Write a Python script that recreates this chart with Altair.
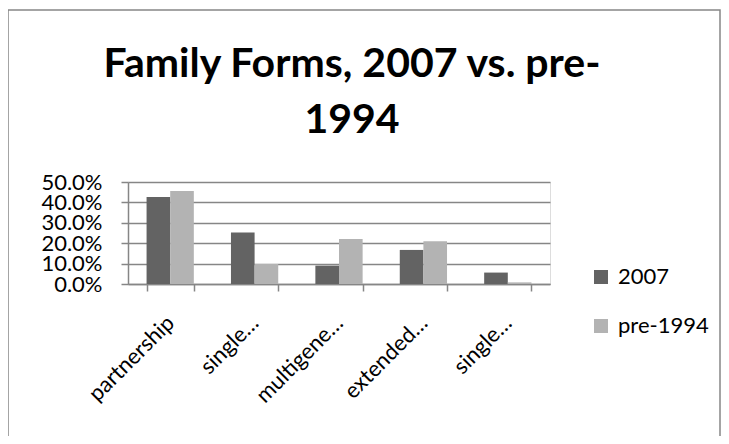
import altair as alt
import pandas as pd

categories = ["partnership", "single parent", "multigenerational", "extended family", "single person"]
tick_labels = ["partnership", "single…", "multigene…", "extended…", "single…"]
series_names = ["2007", "pre-1994"]
values_2007 = [0.426, 0.252, 0.090, 0.167, 0.056]
values_pre1994 = [0.456, 0.098, 0.221, 0.210, 0.008]
y_ticks = [0.0, 0.1, 0.2, 0.3, 0.4, 0.5]
colors = ["#636363", "#b3b3b3"]

rows = []
for c, a, b in zip(categories, values_2007, values_pre1994):
    rows.append({"category": c, "series": series_names[0], "value": a})
    rows.append({"category": c, "series": series_names[1], "value": b})
df = pd.DataFrame(rows)

label_map = "{" + ",".join(f"'{c}':'{t}'" for c, t in zip(categories, tick_labels)) + "}"

FONT = "Lato"
GRID = "#868686"

bars = alt.Chart(df).mark_bar().encode(
    x=alt.X("category:N", sort=categories, title=None,
            scale=alt.Scale(paddingInner=0.44, paddingOuter=0.22),
            axis=alt.Axis(labelAngle=-45, labelAlign="right", labelBaseline="middle",
                          labelExpr=f"{label_map}[datum.value]",
                          labelFont=FONT, labelFontSize=22, labelColor="#000000",
                          labelPadding=28, tickBand="extent", tickSize=7,
                          tickColor=GRID, domainColor=GRID, tickWidth=1.5, domainWidth=1.5,
                          labelLimit=300)),
    xOffset=alt.XOffset("series:N", sort=series_names, scale=alt.Scale(paddingInner=0, paddingOuter=0)),
    y=alt.Y("value:Q", title=None,
            scale=alt.Scale(domain=[0, 0.5], nice=False),
            axis=alt.Axis(values=y_ticks, format=".1%", grid=True, gridColor=GRID, gridWidth=1.5,
                          labelFont=FONT, labelFontSize=22, labelColor="#000000",
                          tickSize=7, tickColor=GRID, domainColor=GRID, tickWidth=1.5,
                          domainWidth=1.5, labelPadding=19, labelOverlap=False)),
    color=alt.Color("series:N", sort=series_names,
                    scale=alt.Scale(domain=series_names, range=colors),
                    legend=alt.Legend(title=None, orient="none", legendX=462, legendY=84,
                                      symbolType="square", symbolSize=196, symbolStrokeWidth=0,
                                      labelFont=FONT, labelFontSize=22, labelColor="#000000",
                                      rowPadding=27, labelOffset=6)),
)

frame = alt.Chart(pd.DataFrame({"k": [0]})).mark_rect(
    fill=None, stroke=GRID, strokeWidth=1.5
).encode(
    x=alt.value(-120), x2=alt.value(592), y=alt.value(-172), y2=alt.value(290)
)

chart = alt.layer(frame, bars).properties(
    width=422, height=102,
    autosize=alt.AutoSizeParams(type="none"),
    padding={"left": 120, "top": 174, "right": 171, "bottom": 152},
    title=alt.Title(["Family Forms, 2007 vs. pre-", "1994"], font=FONT, fontSize=41,
                    fontWeight="bold", color="#000000", anchor="middle", dx=13, dy=133,
                    lineHeight=56, offset=0),
).configure_view(stroke=None).configure(background="white")

chart.save("out.html", embed_options={"renderer": "svg", "actions": False})
